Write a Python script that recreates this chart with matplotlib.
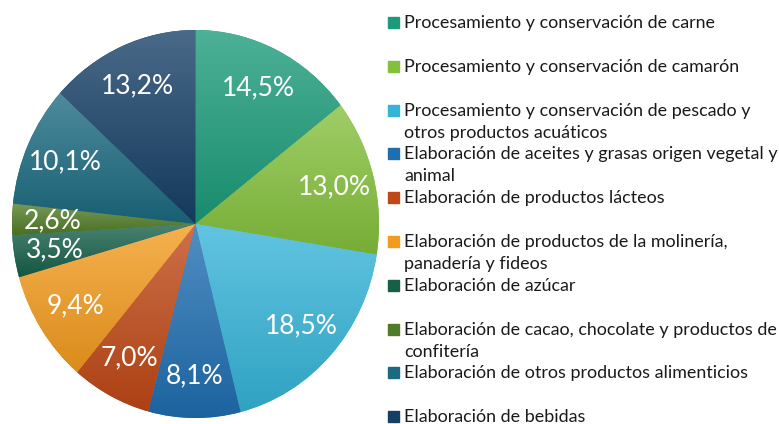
import matplotlib
matplotlib.use("Agg")
import matplotlib.pyplot as plt
import matplotlib.patches as mpatches
import matplotlib.colors as mcolors
import numpy as np

plt.rcParams['font.family'] = ['Lato', 'DejaVu Sans']

# Data
categories = [
    "Procesamiento y conservación de carne",
    "Procesamiento y conservación de camarón",
    "Procesamiento y conservación de pescado y\notros productos acuáticos",
    "Elaboración de aceites y grasas origen vegetal y\nanimal",
    "Elaboración de productos lácteos",
    "Elaboración de productos de la molinería,\npanadería y fideos",
    "Elaboración de azúcar",
    "Elaboración de cacao, chocolate y productos de\nconfitería",
    "Elaboración de otros productos alimenticios",
    "Elaboración de bebidas",
]
shares = [14.5, 13.0, 18.5, 8.1, 7.0, 9.4, 3.5, 2.6, 10.1, 13.2]
colors = ["#1b9b79", "#84c03c", "#35b4d8", "#1f6eb1", "#bf4816",
          "#f39b1e", "#16604a", "#517c27", "#1b6a80", "#163f66"]

fig = plt.figure(figsize=(7.79, 4.24), dpi=100)
ax = fig.add_axes([12 / 779, 6 / 424, 367 / 779, 388 / 424])

wedges, texts, autotexts = ax.pie(
    shares, colors=colors, startangle=90, counterclock=False,
    autopct=lambda p: f"{p:.1f}".replace(".", ",") + "%",
    pctdistance=0.78, wedgeprops=dict(linewidth=0),
    textprops=dict(color="white", fontsize=19))

# soft vertical gradient inside each slice (lighter on top)
for w, c in zip(wedges, colors):
    base = np.array(mcolors.to_rgb(c))
    top = base + (1 - base) * 0.22
    bottom = base * 0.9
    t = np.linspace(0, 1, 64)[:, None]
    grad = (top * (1 - t) + bottom * t)[:, None, :]
    ext = w.get_path().get_extents()
    im = ax.imshow(grad, extent=[ext.x0, ext.x1, ext.y0, ext.y1],
                   origin="upper", aspect="auto", zorder=w.get_zorder() + 0.1)
    im.set_clip_path(w)
for t in autotexts:
    t.set_zorder(5)

ax.set_aspect("auto")
ax.set_xlim(-1, 1)
ax.set_ylim(-1, 1)
ax.axis("off")

# Legend drawn by hand so two-line entries wrap like the original
b0 = 28
step = 43.8
line_gap = 22
for i, (label, c) in enumerate(zip(categories, colors)):
    b = b0 + i * step
    fig.patches.append(mpatches.Rectangle(
        (388 / 779, 1 - b / 424), 11 / 779, 11 / 424,
        color=c, transform=fig.transFigure, figure=fig))
    for j, line in enumerate(label.split("\n")):
        fig.text(404 / 779, 1 - (b + j * line_gap) / 424, line,
                 fontsize=12.9, color="#1a1a1a", va="baseline", ha="left",
                 transform=fig.transFigure)

fig.savefig("out.png", dpi=100)
